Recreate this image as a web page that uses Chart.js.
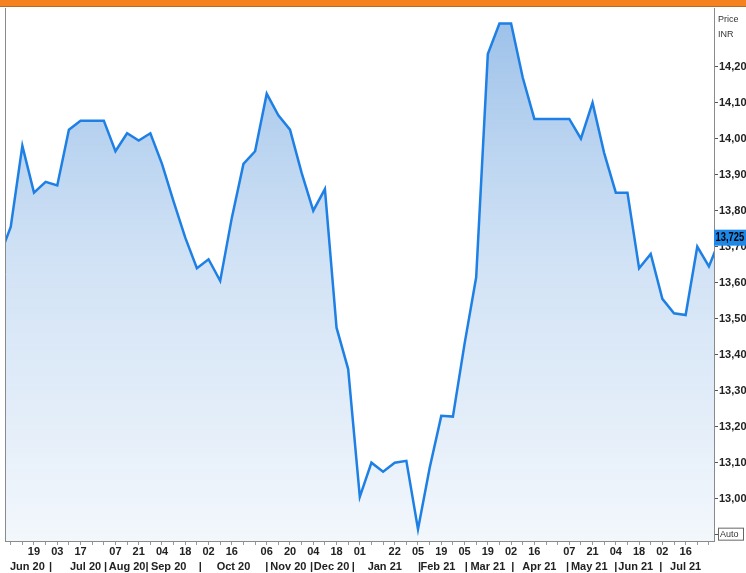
<!DOCTYPE html>
<html>
<head>
<meta charset="utf-8">
<script src="https://cdn.jsdelivr.net/npm/chart.js@4.4.1/dist/chart.umd.min.js"></script>
<style>
  html, body { margin: 0; padding: 0; background: #fff; }
  #wrap { position: relative; width: 746px; height: 573px; }
</style>
</head>
<body>
<div id="wrap"><canvas id="priceChart" width="746" height="573"></canvas></div>
<script>
// weekly closes (Fridays)
const weekDates = [
    '2020-05-29', '2020-06-05', '2020-06-12', '2020-06-19', '2020-06-26', '2020-07-03', '2020-07-10',
    '2020-07-17', '2020-07-24', '2020-07-31', '2020-08-07', '2020-08-14', '2020-08-21', '2020-08-28',
    '2020-09-04', '2020-09-11', '2020-09-18', '2020-09-25', '2020-10-02', '2020-10-09', '2020-10-16',
    '2020-10-23', '2020-10-30', '2020-11-06', '2020-11-13', '2020-11-20', '2020-11-27', '2020-12-04',
    '2020-12-11', '2020-12-18', '2020-12-25', '2021-01-01', '2021-01-08', '2021-01-15', '2021-01-22',
    '2021-01-29', '2021-02-05', '2021-02-12', '2021-02-19', '2021-02-26', '2021-03-05', '2021-03-12',
    '2021-03-19', '2021-03-26', '2021-04-02', '2021-04-09', '2021-04-16', '2021-04-23', '2021-04-30',
    '2021-05-07', '2021-05-14', '2021-05-21', '2021-05-28', '2021-06-04', '2021-06-11', '2021-06-18',
    '2021-06-25', '2021-07-02', '2021-07-09', '2021-07-16', '2021-07-23', '2021-07-30', '2021-08-06'
];
const prices = [
    13.67, 13.755, 13.98, 13.85, 13.88, 13.87, 14.025,
    14.05, 14.05, 14.05, 13.965, 14.015, 13.995, 14.015,
    13.93, 13.825, 13.725, 13.64, 13.665, 13.605, 13.78,
    13.93, 13.965, 14.125, 14.065, 14.025, 13.905, 13.80,
    13.86, 13.475, 13.36, 13.005, 13.10, 13.075, 13.10,
    13.105, 12.915, 13.085, 13.23, 13.228, 13.43, 13.615,
    14.235, 14.32, 14.32, 14.17, 14.055, 14.055, 14.055,
    14.055, 14.0, 14.10, 13.96, 13.85, 13.85, 13.64,
    13.68, 13.555, 13.515, 13.51, 13.70, 13.645, 13.725
];
const lastPrice = 13.725;

// day numbers shown under the axis
const dayLabelDates = [
    '2020-06-19', '2020-07-03', '2020-07-17', '2020-08-07', '2020-08-21', '2020-09-04', '2020-09-18',
    '2020-10-02', '2020-10-16', '2020-11-06', '2020-11-20', '2020-12-04', '2020-12-18', '2021-01-01',
    '2021-01-22', '2021-02-05', '2021-02-19', '2021-03-05', '2021-03-19', '2021-04-02', '2021-04-16',
    '2021-05-07', '2021-05-21', '2021-06-04', '2021-06-18', '2021-07-02', '2021-07-16'
];
// month row
const monthLabels = ['Jun 20', 'Jul 20', 'Aug 20', 'Sep 20', 'Oct 20', 'Nov 20', 'Dec 20',
    'Jan 21', 'Feb 21', 'Mar 21', 'Apr 21', 'May 21', 'Jun 21', 'Jul 21'];
const monthLabelDates = ['2020-06-15', '2020-07-20', '2020-08-14', '2020-09-08', '2020-10-17', '2020-11-19', '2020-12-15',
    '2021-01-16', '2021-02-17', '2021-03-19', '2021-04-19', '2021-05-19', '2021-06-16', '2021-07-16'];
const monthSepDates = ['2020-06-29', '2020-08-01', '2020-08-26', '2020-09-27', '2020-11-06', '2020-12-03',
    '2020-12-28', '2021-02-06', '2021-03-06', '2021-04-03', '2021-05-06', '2021-06-04', '2021-07-01'];

const yTickValues = [12.9, 13.0, 13.1, 13.2, 13.3, 13.4, 13.5, 13.6, 13.7, 13.8, 13.9, 14.0, 14.1, 14.2];

const toDay = s => Date.UTC(+s.slice(0, 4), +s.slice(5, 7) - 1, +s.slice(8, 10)) / 864e5;

const xMin = toDay('2020-06-19') - 17.44;
const xMax = xMin + 426.5;

const dayLabelMap = {};
dayLabelDates.forEach(d => { dayLabelMap[toDay(d)] = d.slice(8, 10); });
const monthMap = {};
monthLabelDates.forEach((d, i) => { monthMap[toDay(d)] = monthLabels[i]; });
monthSepDates.forEach(d => { monthMap[toDay(d)] = '|'; });

const FONT = '"Liberation Sans", Arial, sans-serif';
const fmt = v => v.toFixed(2).replace('.', ',');

// 枠・バッジなどの描画
const decoPlugin = {
    id: 'deco',
    beforeDraw(chart) {
        const c = chart.ctx;
        c.save();
        c.fillStyle = '#f5821f';
        c.fillRect(0, 0, chart.width, 6);
        c.fillStyle = '#b86a2a';
        c.fillRect(0, 6, chart.width, 1);
        c.restore();
    },
    afterDraw(chart) {
        const c = chart.ctx;
        const area = chart.chartArea;
        const y = chart.scales.y;
        c.save();
        // left frame
        c.strokeStyle = '#8a8a8a';
        c.lineWidth = 1;
        c.beginPath();
        c.moveTo(area.left + 0.5, area.top);
        c.lineTo(area.left + 0.5, area.bottom);
        c.stroke();

        // Price / INR
        c.fillStyle = '#333';
        c.font = '9px ' + FONT;
        c.textBaseline = 'middle';
        c.textAlign = 'left';
        c.fillText('Price', 718, 20);
        c.fillText('INR', 718, 35);

        // Auto box
        const ya = y.getPixelForValue(12.9);
        c.fillStyle = '#fff';
        c.fillRect(718, ya - 7, 26, 13);
        c.strokeStyle = '#666';
        c.strokeRect(718.5, ya - 6.5, 25, 12);
        c.fillStyle = '#333';
        c.font = '9px ' + FONT;
        c.fillText('Auto', 720, ya);

        // last price badge (condensed text)
        const yb = y.getPixelForValue(lastPrice);
        c.fillStyle = '#1e88e8';
        c.fillRect(area.right, yb - 8, chart.width - area.right, 16);
        c.fillStyle = '#000';
        c.font = 'bold 12px ' + FONT;
        c.translate(area.right + 1.5, yb + 0.5);
        c.scale(0.78, 1);
        c.fillText(lastPrice.toFixed(3).replace('.', ','), 0, 0);
        c.restore();
    }
};

const ctx = document.getElementById('priceChart').getContext('2d');
new Chart(ctx, {
    type: 'line',
    data: {
        datasets: [{
            data: weekDates.map((d, i) => ({ x: toDay(d), y: prices[i] })),
            borderColor: '#1e80e4',
            borderWidth: 2.5,
            pointRadius: 0,
            tension: 0,
            fill: 'start',
            backgroundColor: (context) => {
                const area = context.chart.chartArea;
                if (!area) return 'rgba(150,190,235,0.5)';
                const g = context.chart.ctx.createLinearGradient(0, area.top, 0, area.bottom);
                g.addColorStop(0, 'rgba(120,170,225,0.75)');
                g.addColorStop(0.5, 'rgba(175,205,238,0.55)');
                g.addColorStop(1, 'rgba(235,242,250,0.6)');
                return g;
            }
        }]
    },
    options: {
        responsive: false,
        animation: false,
        layout: { padding: { left: 5, top: 8, right: 0, bottom: 0 } },
        plugins: {
            legend: { display: false },
            tooltip: { enabled: false }
        },
        scales: {
            x: {
                type: 'linear',
                position: 'bottom',
                weight: 0,
                min: xMin,
                max: xMax,
                afterBuildTicks: scale => {
                    scale.ticks = weekDates.map(toDay)
                        .filter(v => v >= xMin && v <= xMax)
                        .map(v => ({ value: v }));
                },
                afterFit: scale => { scale.height = 18; },
                grid: { drawOnChartArea: false, tickLength: 4, color: '#999' },
                border: { color: '#8a8a8a' },
                ticks: {
                    autoSkip: false,
                    maxRotation: 0,
                    minRotation: 0,
                    padding: 0,
                    color: '#222',
                    font: { family: FONT, size: 11, weight: 'bold' },
                    callback: value => dayLabelMap[value] || ''
                }
            },
            x2: {
                type: 'linear',
                position: 'bottom',
                weight: 1,
                min: xMin,
                max: xMax,
                afterBuildTicks: scale => {
                    scale.ticks = Object.keys(monthMap).map(Number)
                        .sort((a, b) => a - b)
                        .map(v => ({ value: v }));
                },
                afterFit: scale => { scale.height = 14; },
                grid: { display: false, drawTicks: false },
                border: { display: false },
                ticks: {
                    autoSkip: false,
                    maxRotation: 0,
                    minRotation: 0,
                    padding: 1,
                    color: '#222',
                    font: { family: FONT, size: 11, weight: 'bold' },
                    callback: value => monthMap[value] || ''
                }
            },
            y: {
                type: 'linear',
                position: 'right',
                min: 12.8824,
                max: 14.363,
                afterBuildTicks: scale => {
                    scale.ticks = yTickValues.map(v => ({ value: v }));
                },
                afterFit: scale => { scale.width = 32; },
                grid: { drawOnChartArea: false, tickLength: 4, color: '#555' },
                border: { color: '#8a8a8a' },
                ticks: {
                    padding: 1,
                    color: '#222',
                    font: { family: FONT, size: 11, weight: 'bold' },
                    callback: value => (value < 12.95 ? '' : fmt(value))
                }
            }
        }
    },
    plugins: [decoPlugin]
});
</script>
</body>
</html>
